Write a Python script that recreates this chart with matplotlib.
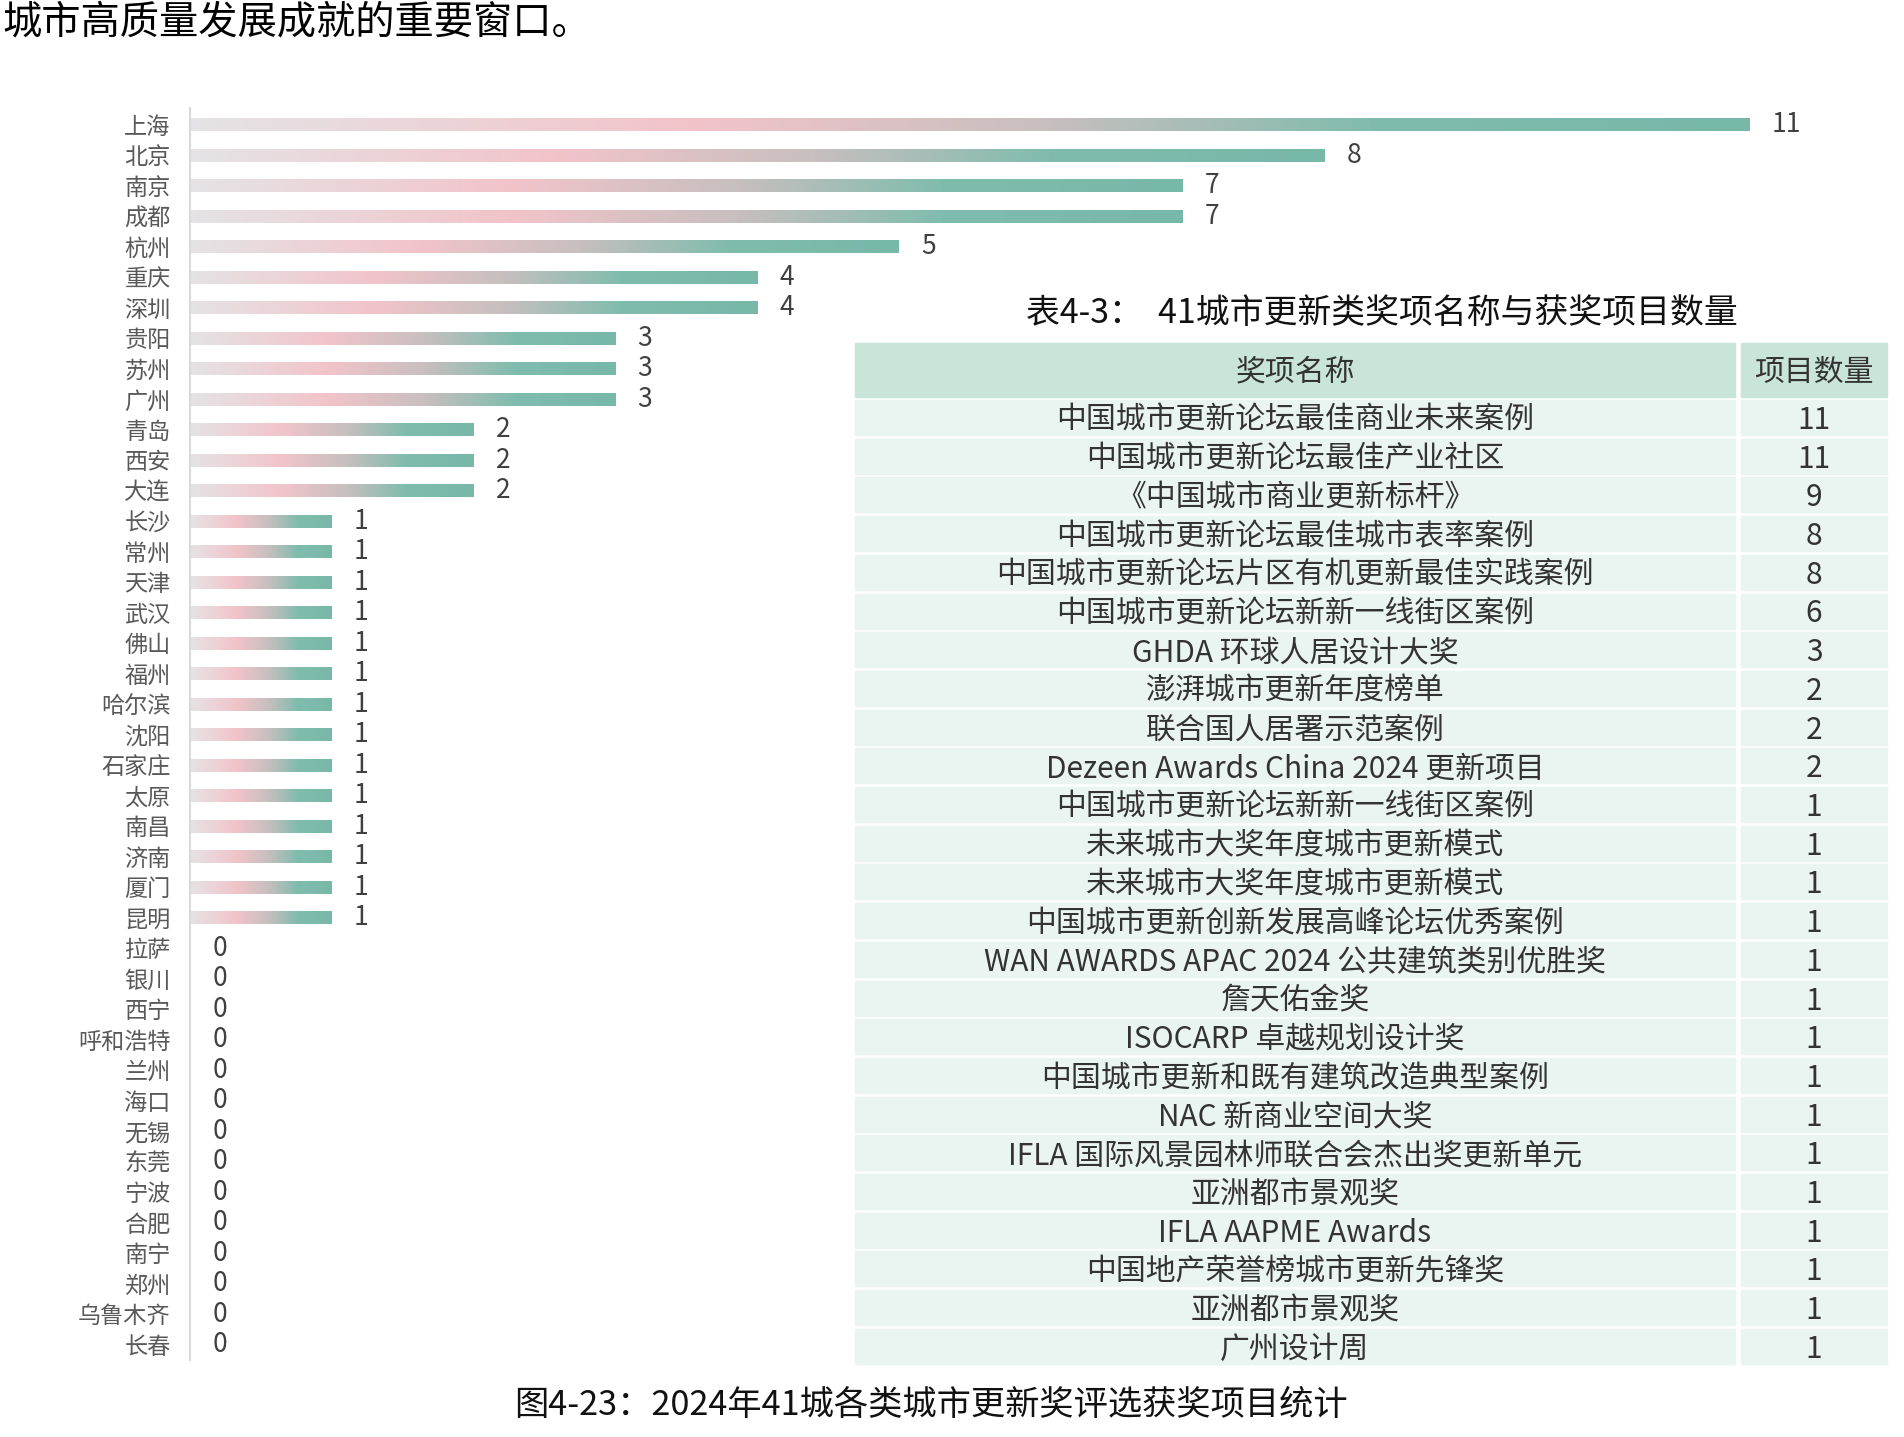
import matplotlib
matplotlib.use("Agg")
import matplotlib.pyplot as plt
import numpy as np
from matplotlib.colors import LinearSegmentedColormap
from matplotlib.patches import Rectangle

plt.rcParams['font.family'] = ['Noto Sans CJK SC', 'DejaVu Sans']

# data
cities = ['上海', '北京', '南京', '成都', '杭州', '重庆', '深圳', '贵阳', '苏州', '广州',
          '青岛', '西安', '大连', '长沙', '常州', '天津', '武汉', '佛山', '福州', '哈尔滨',
          '沈阳', '石家庄', '太原', '南昌', '济南', '厦门', '昆明', '拉萨', '银川', '西宁',
          '呼和浩特', '兰州', '海口', '无锡', '东莞', '宁波', '合肥', '南宁', '郑州', '乌鲁木齐', '长春']
counts = [11, 8, 7, 7, 5, 4, 4, 3, 3, 3,
          2, 2, 2, 1, 1, 1, 1, 1, 1, 1,
          1, 1, 1, 1, 1, 1, 1, 0, 0, 0,
          0, 0, 0, 0, 0, 0, 0, 0, 0, 0, 0]

award_names = ['中国城市更新论坛最佳商业未来案例', '中国城市更新论坛最佳产业社区', '《中国城市商业更新标杆》',
               '中国城市更新论坛最佳城市表率案例', '中国城市更新论坛片区有机更新最佳实践案例',
               '中国城市更新论坛新新一线街区案例', 'GHDA 环球人居设计大奖', '澎湃城市更新年度榜单',
               '联合国人居署示范案例', 'Dezeen Awards China 2024 更新项目', '中国城市更新论坛新新一线街区案例',
               '未来城市大奖年度城市更新模式', '未来城市大奖年度城市更新模式', '中国城市更新创新发展高峰论坛优秀案例',
               'WAN AWARDS APAC 2024 公共建筑类别优胜奖', '詹天佑金奖', 'ISOCARP 卓越规划设计奖',
               '中国城市更新和既有建筑改造典型案例', 'NAC 新商业空间大奖', 'IFLA 国际风景园林师联合会杰出奖更新单元',
               '亚洲都市景观奖', 'IFLA AAPME Awards', '中国地产荣誉榜城市更新先锋奖', '亚洲都市景观奖', '广州设计周']
award_counts = [11, 11, 9, 8, 8, 6, 3, 2, 2, 2, 1, 1, 1, 1, 1, 1, 1, 1, 1, 1, 1, 1, 1, 1, 1]
table_header = ['奖项名称', '项目数量']

W, H = 1904, 1437
fig = plt.figure(figsize=(W / 100, H / 100), dpi=100)

# bar chart
ax = fig.add_axes([190 / W, (H - 1360) / H, 1616 / W, 1252 / H])
grad = LinearSegmentedColormap.from_list('g', [(0.0, '#e5e3e5'), (0.32, '#f2c4ca'),
                                               (0.55, '#c8bfbf'), (0.76, '#80bcae'),
                                               (1.0, '#78b8a9')])
gimg = np.linspace(0, 1, 256).reshape(1, -1)
y = np.arange(len(cities))
bars = ax.barh(y, counts, height=0.42, color='none', edgecolor='none')
for b, v in zip(bars, counts):
    if v > 0:
        x0, y0 = b.get_x(), b.get_y()
        im = ax.imshow(gimg, cmap=grad, aspect='auto', interpolation='bilinear',
                       extent=(x0, x0 + b.get_width(), y0 + b.get_height(), y0))
        im.set_clip_path(b)
for yi, v in zip(y, counts):
    ax.annotate(str(v), (v, yi), xytext=(16, 0), textcoords='offset points',
                ha='left', va='center', fontsize=19, color='#404040')
ax.set_xlim(0, 11.4)
ax.set_ylim(len(cities) - 0.5, -0.55)
ax.set_yticks(y)
ax.set_yticklabels(cities, fontsize=16.7, color='#595959')
ax.tick_params(axis='y', length=0, pad=14)
ax.set_xticks([])
for s in ['top', 'right', 'bottom']:
    ax.spines[s].set_visible(False)
ax.spines['left'].set_color('#d9d9d9')
ax.spines['left'].set_linewidth(1.5)

# table overlay in pixel coordinates
tx = fig.add_axes([0, 0, 1, 1])
tx.set_xlim(0, W)
tx.set_ylim(H, 0)
tx.axis('off')
tx.patch.set_alpha(0)

c1_l, c1_r, c2_l, c2_r = 855, 1735, 1741, 1887
head_t, head_b = 343, 397
row_t0, pitch, row_h = 400, 38.7, 35

tx.add_patch(Rectangle((c1_l, head_t), c1_r - c1_l, head_b - head_t, color='#c9e5da'))
tx.add_patch(Rectangle((c2_l, head_t), c2_r - c2_l, head_b - head_t, color='#c9e5da'))
tx.text((c1_l + c1_r) / 2, (head_t + head_b) / 2 + 2, table_header[0], ha='center', va='center',
        fontsize=21.5, color='#333333')
tx.text((c2_l + c2_r) / 2, (head_t + head_b) / 2 + 2, table_header[1], ha='center', va='center',
        fontsize=21.5, color='#333333')
for i, (name, n) in enumerate(zip(award_names, award_counts)):
    top = row_t0 + i * pitch
    tx.add_patch(Rectangle((c1_l, top), c1_r - c1_l, row_h, color='#eaf4f0'))
    tx.add_patch(Rectangle((c2_l, top), c2_r - c2_l, row_h, color='#eaf4f0'))
    tx.text((c1_l + c1_r) / 2, top + row_h / 2 + 3, name, ha='center', va='center',
            fontsize=21.5, color='#333333')
    tx.text((c2_l + c2_r) / 2, top + row_h / 2 + 3, str(n), ha='center', va='center',
            fontsize=21.5, color='#333333')

tx.text(1382, 313, '表4-3：  41城市更新类奖项名称与获奖项目数量', ha='center', va='center',
        fontsize=24.4, color='#111111')
tx.text(2, 22, '城市高质量发展成就的重要窗口。', ha='left', va='center', fontsize=28.3, color='#000000')
tx.text(931, 1406, '图4-23：2024年41城各类城市更新奖评选获奖项目统计', ha='center', va='center',
        fontsize=24.7, color='#111111')

fig.savefig('out.png', dpi=100)
